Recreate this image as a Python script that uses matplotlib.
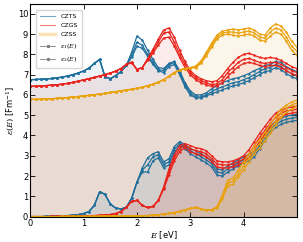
import numpy as np
import matplotlib
matplotlib.use("Agg")
import matplotlib.pyplot as plt
from matplotlib.lines import Line2D

# photon energy grid (eV)
energy = np.round(np.arange(0, 51) * 0.1, 2)

# --- real part eps1(E), three tensor components per compound ---
czts_e1_a = [6.75, 6.76, 6.77, 6.79, 6.81, 6.84, 6.88, 6.93, 7.00, 7.08,
             7.18, 7.32, 7.55, 7.75, 6.90, 6.80, 6.95, 7.15, 7.45, 8.10,
             8.90, 8.70, 8.20, 7.75, 7.35, 7.30, 7.55, 7.65, 7.20, 6.60,
             6.20, 6.00, 6.00, 6.10, 6.30, 6.45, 6.60, 6.70, 6.80, 6.85,
             6.95, 7.05, 7.20, 7.30, 7.45, 7.50, 7.65, 7.60, 7.40, 7.25, 7.15]
czts_e1_b = [6.75, 6.76, 6.77, 6.79, 6.81, 6.84, 6.88, 6.93, 7.00, 7.08,
             7.18, 7.32, 7.55, 7.75, 6.90, 6.80, 6.95, 7.15, 7.45, 7.95,
             8.60, 8.45, 8.00, 7.60, 7.25, 7.20, 7.50, 7.60, 7.10, 6.50,
             6.10, 5.90, 5.90, 6.00, 6.15, 6.30, 6.40, 6.50, 6.60, 6.65,
             6.75, 6.85, 7.00, 7.15, 7.30, 7.35, 7.50, 7.40, 7.20, 7.05, 6.95]
czts_e1_c = [6.75, 6.76, 6.77, 6.79, 6.81, 6.84, 6.88, 6.93, 7.00, 7.08,
             7.18, 7.32, 7.55, 7.75, 6.90, 6.80, 6.95, 7.15, 7.45, 7.85,
             8.40, 8.30, 7.90, 7.50, 7.20, 7.10, 7.40, 7.50, 7.00, 6.40,
             6.00, 5.85, 5.85, 5.95, 6.05, 6.15, 6.25, 6.35, 6.45, 6.50,
             6.60, 6.70, 6.85, 7.00, 7.15, 7.20, 7.35, 7.25, 7.05, 6.90, 6.80]

czgs_e1_a = [6.42, 6.43, 6.44, 6.46, 6.48, 6.50, 6.53, 6.57, 6.62, 6.68,
             6.74, 6.80, 6.86, 6.93, 7.00, 7.08, 7.17, 7.30, 7.50, 7.62,
             7.25, 7.35, 7.80, 8.25, 8.75, 9.20, 9.30, 8.85, 8.20, 7.65,
             7.20, 6.95, 6.80, 6.70, 6.65, 6.70, 6.95, 7.30, 7.60, 7.85,
             8.00, 8.05, 7.95, 7.85, 7.80, 7.85, 7.80, 7.70, 7.55, 7.40, 7.30]
czgs_e1_b = [6.42, 6.43, 6.44, 6.46, 6.48, 6.50, 6.53, 6.57, 6.62, 6.68,
             6.74, 6.80, 6.86, 6.93, 7.00, 7.08, 7.17, 7.30, 7.50, 7.60,
             7.25, 7.35, 7.75, 8.15, 8.60, 9.05, 9.10, 8.60, 8.00, 7.50,
             7.10, 6.85, 6.70, 6.60, 6.50, 6.55, 6.75, 7.10, 7.35, 7.60,
             7.75, 7.80, 7.70, 7.60, 7.55, 7.60, 7.60, 7.50, 7.35, 7.20, 7.10]
czgs_e1_c = [6.42, 6.43, 6.44, 6.46, 6.48, 6.50, 6.53, 6.57, 6.62, 6.68,
             6.74, 6.80, 6.86, 6.93, 7.00, 7.08, 7.17, 7.30, 7.50, 7.58,
             7.25, 7.35, 7.70, 8.05, 8.45, 8.80, 8.85, 8.40, 7.85, 7.35,
             7.00, 6.75, 6.60, 6.50, 6.42, 6.45, 6.60, 6.90, 7.15, 7.40,
             7.55, 7.60, 7.55, 7.45, 7.40, 7.45, 7.45, 7.35, 7.20, 7.05, 6.95]

czss_e1_a = [5.78, 5.78, 5.79, 5.80, 5.81, 5.83, 5.85, 5.87, 5.90, 5.92,
             5.95, 5.98, 6.01, 6.04, 6.08, 6.12, 6.16, 6.20, 6.24, 6.28,
             6.33, 6.38, 6.45, 6.53, 6.63, 6.75, 6.92, 7.10, 7.22, 7.30,
             7.35, 7.42, 7.68, 8.10, 8.55, 8.95, 9.15, 9.20, 9.25, 9.20,
             9.25, 9.30, 9.20, 9.00, 8.95, 9.30, 9.50, 9.40, 9.10, 8.65, 8.35]
czss_e1_b = [5.78, 5.78, 5.79, 5.80, 5.81, 5.83, 5.85, 5.87, 5.90, 5.92,
             5.95, 5.98, 6.01, 6.04, 6.08, 6.12, 6.16, 6.20, 6.24, 6.28,
             6.33, 6.38, 6.45, 6.53, 6.63, 6.75, 6.92, 7.10, 7.22, 7.30,
             7.33, 7.38, 7.60, 8.00, 8.45, 8.85, 9.05, 9.10, 9.10, 9.05,
             9.10, 9.15, 9.05, 8.85, 8.80, 9.10, 9.30, 9.20, 8.85, 8.40, 8.15]
czss_e1_c = [5.78, 5.78, 5.79, 5.80, 5.81, 5.83, 5.85, 5.87, 5.90, 5.92,
             5.95, 5.98, 6.01, 6.04, 6.08, 6.12, 6.16, 6.20, 6.24, 6.28,
             6.33, 6.38, 6.45, 6.53, 6.63, 6.75, 6.92, 7.10, 7.22, 7.30,
             7.32, 7.35, 7.55, 7.92, 8.35, 8.75, 8.95, 9.00, 8.95, 8.90,
             8.95, 9.00, 8.90, 8.70, 8.65, 8.90, 9.10, 9.00, 8.65, 8.20, 7.95]

# --- imaginary part eps2(E) ---
czts_e2_a = [0.00, 0.00, 0.00, 0.01, 0.02, 0.03, 0.04, 0.05, 0.07, 0.10,
             0.15, 0.25, 0.55, 1.22, 1.10, 0.62, 0.42, 0.38, 0.45, 0.90,
             1.70, 2.40, 2.90, 3.10, 3.20, 2.70, 2.85, 3.45, 3.70, 3.55,
             3.35, 3.25, 3.10, 2.95, 2.75, 2.35, 2.30, 2.50, 2.65, 2.80,
             2.95, 3.05, 3.25, 3.65, 4.05, 4.45, 4.70, 4.85, 4.95, 5.00, 5.05]
czts_e2_b = [0.00, 0.00, 0.00, 0.01, 0.02, 0.03, 0.04, 0.05, 0.07, 0.10,
             0.15, 0.25, 0.55, 1.22, 1.10, 0.62, 0.42, 0.38, 0.45, 0.90,
             1.70, 2.30, 2.55, 2.95, 3.05, 2.55, 2.70, 3.30, 3.60, 3.45,
             3.25, 3.10, 2.95, 2.80, 2.60, 2.20, 2.15, 2.35, 2.50, 2.65,
             2.80, 2.90, 3.10, 3.50, 3.90, 4.30, 4.55, 4.70, 4.80, 4.85, 4.90]
czts_e2_c = [0.00, 0.00, 0.00, 0.01, 0.02, 0.03, 0.04, 0.05, 0.07, 0.10,
             0.15, 0.25, 0.55, 1.22, 1.10, 0.62, 0.42, 0.38, 0.45, 0.90,
             1.70, 2.20, 2.20, 2.75, 2.90, 2.40, 2.55, 3.15, 3.50, 3.35,
             3.10, 2.95, 2.80, 2.65, 2.45, 2.05, 2.00, 2.20, 2.35, 2.50,
             2.65, 2.75, 2.95, 3.35, 3.75, 4.15, 4.40, 4.55, 4.65, 4.70, 4.75]

czgs_e2_a = [0.00, 0.00, 0.00, 0.00, 0.01, 0.01, 0.01, 0.02, 0.02, 0.02,
             0.03, 0.04, 0.05, 0.06, 0.08, 0.10, 0.15, 0.25, 0.45, 0.75,
             0.80, 0.55, 0.45, 0.50, 0.80, 1.45, 2.35, 3.05, 3.50, 3.60,
             3.50, 3.40, 3.35, 3.25, 3.00, 2.75, 2.70, 2.70, 2.75, 2.85,
             3.00, 3.30, 3.70, 4.10, 4.45, 4.80, 5.10, 5.25, 5.35, 5.40, 5.45]
czgs_e2_b = [0.00, 0.00, 0.00, 0.00, 0.01, 0.01, 0.01, 0.02, 0.02, 0.02,
             0.03, 0.04, 0.05, 0.06, 0.08, 0.10, 0.15, 0.25, 0.45, 0.75,
             0.80, 0.55, 0.45, 0.50, 0.80, 1.40, 2.20, 2.90, 3.35, 3.50,
             3.35, 3.25, 3.20, 3.10, 2.85, 2.60, 2.55, 2.55, 2.60, 2.70,
             2.85, 3.10, 3.50, 3.90, 4.25, 4.60, 4.90, 5.10, 5.20, 5.25, 5.30]
czgs_e2_c = [0.00, 0.00, 0.00, 0.00, 0.01, 0.01, 0.01, 0.02, 0.02, 0.02,
             0.03, 0.04, 0.05, 0.06, 0.08, 0.10, 0.15, 0.25, 0.45, 0.75,
             0.80, 0.55, 0.45, 0.50, 0.80, 1.35, 2.05, 2.75, 3.20, 3.40,
             3.20, 3.10, 3.05, 2.95, 2.70, 2.45, 2.40, 2.40, 2.45, 2.55,
             2.70, 2.90, 3.30, 3.70, 4.05, 4.40, 4.70, 4.90, 5.05, 5.10, 5.15]

czss_e2_a = [0.00, 0.00, 0.00, 0.00, 0.00, 0.00, 0.01, 0.01, 0.01, 0.01,
             0.01, 0.01, 0.01, 0.02, 0.02, 0.02, 0.02, 0.02, 0.03, 0.03,
             0.03, 0.04, 0.05, 0.07, 0.09, 0.12, 0.16, 0.20, 0.26, 0.33,
             0.40, 0.45, 0.38, 0.32, 0.33, 0.50, 1.05, 1.80, 1.90, 2.30,
             2.70, 3.10, 3.50, 3.80, 4.15, 4.55, 4.95, 5.30, 5.50, 5.65, 5.75]
czss_e2_b = [0.00, 0.00, 0.00, 0.00, 0.00, 0.00, 0.01, 0.01, 0.01, 0.01,
             0.01, 0.01, 0.01, 0.02, 0.02, 0.02, 0.02, 0.02, 0.03, 0.03,
             0.03, 0.04, 0.05, 0.07, 0.09, 0.12, 0.16, 0.20, 0.26, 0.33,
             0.40, 0.45, 0.38, 0.32, 0.33, 0.45, 0.95, 1.65, 1.75, 2.10,
             2.50, 2.90, 3.30, 3.60, 3.95, 4.30, 4.70, 5.10, 5.35, 5.50, 5.60]
czss_e2_c = [0.00, 0.00, 0.00, 0.00, 0.00, 0.00, 0.01, 0.01, 0.01, 0.01,
             0.01, 0.01, 0.01, 0.02, 0.02, 0.02, 0.02, 0.02, 0.03, 0.03,
             0.03, 0.04, 0.05, 0.07, 0.09, 0.12, 0.16, 0.20, 0.26, 0.33,
             0.40, 0.45, 0.38, 0.32, 0.33, 0.42, 0.85, 1.50, 1.60, 1.95,
             2.30, 2.70, 3.10, 3.40, 3.75, 4.10, 4.50, 4.90, 5.15, 5.30, 5.45]

labels = ["CZTS", "CZGS", "CZSS"]
colors = ["#1f6f9c", "#e8231c", "#e9a20e"]

e1_sets = [[czts_e1_a, czts_e1_b, czts_e1_c],
           [czgs_e1_a, czgs_e1_b, czgs_e1_c],
           [czss_e1_a, czss_e1_b, czss_e1_c]]
e2_sets = [[czts_e2_a, czts_e2_b, czts_e2_c],
           [czgs_e2_a, czgs_e2_b, czgs_e2_c],
           [czss_e2_a, czss_e2_b, czss_e2_c]]

plt.rcParams["font.family"] = ["DejaVu Sans"]
plt.rcParams["mathtext.fontset"] = "dejavuserif"

fig, ax = plt.subplots(figsize=(3.03, 2.42), dpi=100)
fig.subplots_adjust(left=0.1, right=0.98, bottom=0.105, top=0.985)

for col, curves in zip(colors, e1_sets):
    for c in curves:
        ax.fill_between(energy, 0, c, color=col, alpha=0.027, lw=0)
        ax.plot(energy, c, color=col, lw=0.9, marker="*", ms=2.0, mew=0.3)
for col, curves in zip(colors, e2_sets):
    for c in curves:
        ax.fill_between(energy, 0, c, color=col, alpha=0.035, lw=0)
        ax.plot(energy, c, color=col, lw=0.9, marker="o", ms=1.3, mew=0.3)

ax.set_xlim(0, 5)
ax.set_ylim(0, 10.5)
ax.set_xticks([0, 1, 2, 3, 4])
ax.set_yticks(range(0, 11))
ax.tick_params(direction="in", top=True, right=True, labelsize=6,
               length=3.5, width=0.6, pad=1.5)
for s in ax.spines.values():
    s.set_linewidth(0.8)
ax.set_xlabel("$E$ [eV]", fontsize=6, labelpad=1)
ax.set_ylabel(r"$\epsilon(E)$ [Fm$^{-1}$]", fontsize=6, labelpad=1)

handles = [Line2D([], [], color=colors[0], lw=0.8, alpha=0.6),
           Line2D([], [], color=colors[1], lw=0.8, alpha=0.6),
           Line2D([], [], color=colors[2], lw=2.5, alpha=0.3),
           Line2D([], [], color="gray", lw=0.6, marker="*", ms=2),
           Line2D([], [], color="gray", lw=0.6, marker="o", ms=1.5)]
names = labels + [r"$\epsilon_1(E)$", r"$\epsilon_2(E)$"]
ax.legend(handles, names, loc="upper left", fontsize=4.5, frameon=True,
          handlelength=2.5, labelspacing=0.6, borderpad=0.6,
          bbox_to_anchor=(0.01, 0.985))

fig.savefig("out.png", dpi=100)
